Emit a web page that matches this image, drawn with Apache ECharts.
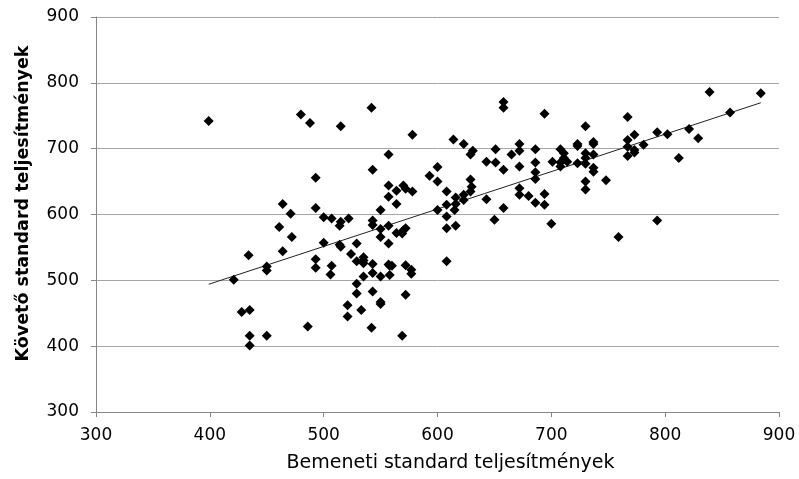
<!DOCTYPE html>
<html>
<head>
<meta charset="utf-8">
<script src="https://cdn.jsdelivr.net/npm/echarts@6/dist/echarts.min.js"></script>
<style>html,body{margin:0;padding:0;background:#fff}#c{width:799px;height:479px}</style>
</head>
<body>
<div id="c"></div>
<script>
const inputScores = [399,480,488,515,542,543,493,557,557,557,464,471,493,550,500,507,522,515,514,543,543,550,557,461,472,550,557,500,514,515,529,464,434,524,535,535,529,493,543,557,450,493,507,506,450,421,535,535,543,550,529,529,543,550,550,521,533,521,542,486,428,435,435,450,435,
658,658,694,578,614,623,631,629,651,643,651,658,665,672,672,672,686,686,686,686,701,600,593,600,564,564,570,572,578,570,572,569,564,608,600,608,608,608,616,616,615,616,623,623,629,630,629,643,650,658,672,672,680,686,694,694,700,608,558,560,572,577,577,558,572,569,
839,884,857,767,730,821,793,802,773,767,767,767,773,773,781,829,812,737,737,723,723,708,711,711,708,708,714,723,730,730,730,737,737,737,748,730,730,793,759];
const followScores = [742,752,739,734,762,668,656,691,644,627,616,601,610,607,596,594,594,589,583,591,584,578,583,581,566,566,556,557,554,551,556,544,538,540,535,530,529,532,525,524,521,519,522,509,515,501,526,506,511,506,495,480,483,467,464,462,455,445,428,430,452,455,416,416,401,
771,762,753,721,714,707,697,691,699,680,679,668,691,707,697,673,699,679,664,654,680,672,659,650,636,616,644,639,635,576,579,571,572,635,607,615,597,579,626,616,607,583,630,622,653,642,635,623,592,610,640,630,628,618,631,615,586,529,522,522,523,516,510,508,478,416,
786,784,755,748,734,730,725,722,721,713,703,689,698,694,706,716,686,710,707,707,704,699,693,686,679,673,680,678,693,686,677,691,671,665,652,650,638,591,566];
const axisTicks = [300,400,500,600,700,800,900];

const points = inputScores.map((x,i)=>[x, followScores[i]]);
// least-squares trend line
const n = points.length;
let sx=0, sy=0, sxx=0, sxy=0;
points.forEach(([x,y])=>{sx+=x; sy+=y; sxx+=x*x; sxy+=x*y;});
const slope = (n*sxy - sx*sy)/(n*sxx - sx*sx);
const icpt = (sy - slope*sx)/n;
const xmin = Math.min(...inputScores), xmax = Math.max(...inputScores);
const trend = [[xmin, icpt+slope*xmin],[xmax, icpt+slope*xmax]];

const font = 'DejaVu Sans';
const chart = echarts.init(document.getElementById('c'), null, {renderer:'canvas'});
chart.setOption({
  animation:false,
  backgroundColor:'#fff',
  grid:{left:96, right:20, top:17, bottom:67},
  xAxis:{
    type:'value', min:axisTicks[0], max:axisTicks[axisTicks.length-1], interval:100,
    name:'Bemeneti standard teljesítmények', nameLocation:'middle', nameGap:42,
    nameTextStyle:{fontFamily:font, fontSize:19, color:'#000', padding:[0,0,0,26]},
    axisLine:{lineStyle:{color:'#868686'}},
    axisTick:{show:true, length:5, lineStyle:{color:'#868686'}},
    axisLabel:{fontFamily:font, fontSize:17, color:'#000', margin:15},
    splitLine:{show:false}
  },
  yAxis:{
    type:'value', min:axisTicks[0], max:axisTicks[axisTicks.length-1], interval:100,
    name:'Követő standard teljesítmények', nameLocation:'middle', nameGap:64,
    nameTextStyle:{fontFamily:font, fontSize:17.5, fontWeight:'bold', color:'#000', padding:[0,0,0,22]},
    axisLine:{show:true, lineStyle:{color:'#868686'}},
    axisTick:{show:true, length:5, lineStyle:{color:'#868686'}},
    axisLabel:{fontFamily:font, fontSize:17, color:'#000', margin:17},
    splitLine:{show:true, lineStyle:{color:'#a6a6a6', width:1}}
  },
  series:[
    {type:'scatter', data:points, symbol:'diamond', symbolSize:10, itemStyle:{color:'#000', opacity:1}, z:3},
    {type:'line', data:trend, symbol:'none', lineStyle:{color:'#222', width:1}, z:2}
  ]
});
</script>
</body>
</html>
